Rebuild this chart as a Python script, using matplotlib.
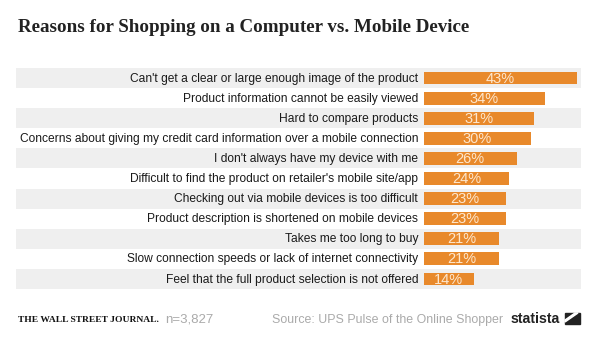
import matplotlib.pyplot as plt
import matplotlib.patches as mpatches

reasons = [
    "Can't get a clear or large enough image of the product",
    "Product information cannot be easily viewed",
    "Hard to compare products",
    "Concerns about giving my credit card information over a mobile connection",
    "I don't always have my device with me",
    "Difficult to find the product on retailer's mobile site/app",
    "Checking out via mobile devices is too difficult",
    "Product description is shortened on mobile devices",
    "Takes me too long to buy",
    "Slow connection speeds or lack of internet connectivity",
    "Feel that the full product selection is not offered",
]
shares = [43, 34, 31, 30, 26, 24, 23, 23, 21, 21, 14]

W, H = 599, 337
fig = plt.figure(figsize=(W / 100, H / 100), dpi=100)
fig.patch.set_facecolor("white")

ax = fig.add_axes([16 / W, 1 - 289 / H, 565 / W, 221 / H])
px_per = 3.56
ax.set_xlim(-(424 - 16) / px_per, (581 - 424) / px_per)
n = len(reasons)
ax.set_ylim(n - 0.5, -0.5)
ax.axis("off")

for i, (lab, v) in enumerate(zip(reasons, shares)):
    if i % 2 == 0:
        ax.axhspan(i - 0.5, i + 0.5, color="#efefef", lw=0, zorder=0)
    ax.barh(i, v, height=0.64, color="#e8892b", zorder=2)
    ax.text(v / 2, i + 0.03, f"{v}%", ha="center", va="center",
            color="#fde6cc", fontsize=10.5, family="Liberation Sans", zorder=3)
    ax.text(-6 / px_per, i + 0.03, lab, ha="right", va="center",
            color="#1a1a1a", fontsize=8.65, family="Liberation Sans")

fig.text(18 / W, 1 - 27 / H, "Reasons for Shopping on a Computer vs. Mobile Device",
         ha="left", va="center", fontsize=13.7, fontweight="bold",
         family="Liberation Serif", color="#222222")

fig.text(18 / W, 1 - 320 / H, "THE WALL STREET JOURNAL.", ha="left", va="center",
         fontsize=6.8, fontweight="bold", family="Liberation Serif", color="#111111")
fig.text(165 / W, 1 - 320 / H, "n=3,827", ha="left", va="center",
         fontsize=9.5, family="Liberation Sans", color="#aaaaaa")
fig.text(503 / W, 1 - 320 / H, "Source: UPS Pulse of the Online Shopper", ha="right",
         va="center", fontsize=8.9, family="Liberation Sans", color="#aaaaaa")
fig.text(511 / W, 1 - 319 / H, "statista", ha="left", va="center",
         fontsize=10.2, fontweight="bold", family="Liberation Sans", color="#222222")
logo = mpatches.Polygon([(565 / W, 1 - 324 / H), (580 / W, 1 - 324 / H),
                         (580 / W, 1 - 313 / H), (565 / W, 1 - 313 / H)],
                        closed=True, transform=fig.transFigure, color="#222222")
fig.patches.append(logo)
cut = mpatches.Polygon([(565 / W, 1 - 320 / H), (575 / W, 1 - 313 / H),
                        (578 / W, 1 - 313 / H), (565 / W, 1 - 322 / H)],
                       closed=True, transform=fig.transFigure, color="white")
fig.patches.append(cut)

fig.savefig("out.png", dpi=100)
